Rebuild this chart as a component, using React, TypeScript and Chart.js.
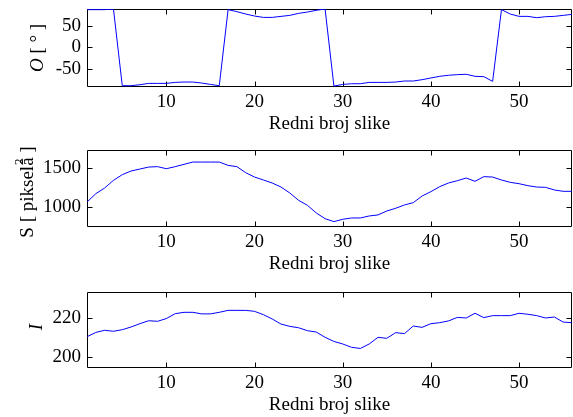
import React, { useEffect, useRef } from "react";
import { Chart, registerables } from "chart.js";

Chart.register(...registerables);

const FONT = '"Liberation Serif", "Times New Roman", serif';

const FRAMES = [
  1, 2, 3, 4, 5, 6, 7, 8, 9, 10, 11, 12, 13, 14, 15, 16, 17, 18, 19, 20,
  21, 22, 23, 24, 25, 26, 27, 28, 29, 30, 31, 32, 33, 34, 35, 36, 37, 38, 39, 40,
  41, 42, 43, 44, 45, 46, 47, 48, 49, 50, 51, 52, 53, 54, 55, 56,
];

const ORIENTATION = [
  87.5, 87.5, 87.5, 89, -89, -89, -86.7, -83.6, -83.6, -83.6,
  -81.3, -80.5, -80.5, -82.8, -86, -89, 87.5, 82.8, 77.3, 72.7,
  69.5, 69.5, 71.9, 74.2, 78.9, 82, 85.9, 89, -89.8, -86,
  -84.4, -84.4, -81.3, -81.3, -81.3, -80.5, -78.1, -78.1, -75, -71.1,
  -67.2, -64.8, -63.3, -62.5, -67.2, -68, -78.9, 87.5, 77.3, 71.9,
  71.9, 68.8, 71.1, 71.9, 74.2, 76.6,
];

const AREA = [
  1067, 1172, 1244, 1340, 1412, 1458, 1483, 1508, 1513, 1487,
  1513, 1542, 1571, 1571, 1571, 1571, 1529, 1513, 1437, 1382,
  1345, 1307, 1256, 1181, 1088, 1025, 929, 857, 820, 849,
  866, 866, 891, 904, 954, 988, 1030, 1059, 1143, 1198,
  1261, 1307, 1336, 1370, 1328, 1387, 1382, 1345, 1315, 1298,
  1273, 1256, 1252, 1219, 1202, 1202,
];

const INTENSITY = [
  210.4, 212.6, 213.7, 213.2, 214.0, 215.4, 217.1, 218.6, 218.3, 219.7,
  222.2, 222.9, 222.9, 222.1, 222.1, 222.9, 223.9, 223.9, 223.9, 223.4,
  221.7, 219.5, 216.9, 215.7, 215.0, 213.5, 212.8, 210.1, 208.0, 206.7,
  205.0, 204.4, 206.7, 210.1, 209.6, 212.5, 212.0, 215.9, 215.2, 217.1,
  217.6, 218.5, 220.3, 220.0, 222.4, 220.2, 221.2, 221.2, 221.2, 222.4,
  221.9, 221.2, 220.0, 220.5, 217.9, 217.6,
];

const X_TICKS = [10, 20, 30, 40, 50];
const ORIENTATION_TICKS = [-50, 0, 50];
const AREA_TICKS = [1000, 1500];
const INTENSITY_TICKS = [200, 220];

const X_LABEL = "Redni broj slike";

type Part = { t: string; f: string; dy?: number; over?: boolean };

function drawVertical(ctx: CanvasRenderingContext2D, baseX: number, cy: number, parts: Part[]) {
  ctx.save();
  let total = 0;
  const widths = parts.map((p) => {
    ctx.font = p.f;
    const w = ctx.measureText(p.t).width;
    if (!p.over) total += w;
    return w;
  });
  ctx.translate(baseX, cy);
  ctx.rotate(-Math.PI / 2);
  ctx.textAlign = "left";
  ctx.textBaseline = "alphabetic";
  ctx.fillStyle = "#000";
  let x = -total / 2;
  let lastStart = x;
  let lastW = 0;
  parts.forEach((p, i) => {
    ctx.font = p.f;
    if (p.over) {
      ctx.fillText(p.t, lastStart + (lastW - widths[i]) / 2, p.dy || 0);
      return;
    }
    ctx.fillText(p.t, x, p.dy || 0);
    lastStart = x;
    lastW = widths[i];
    x += widths[i];
  });
  ctx.restore();
}

const N = `19px ${FONT}`;
const IT = `italic 19px ${FONT}`;

type PanelProps = {
  top: number;
  height: number;
  padTop: number;
  axisHeight: number;
  values: number[];
  yMin: number;
  yMax: number;
  yTicks: number[];
  yLabel: (ctx: CanvasRenderingContext2D) => void;
};

function Panel(p: PanelProps) {
  const ref = useRef<HTMLCanvasElement>(null);
  useEffect(() => {
    const canvas = ref.current!;
    const decor = {
      id: "decor",
      beforeDatasetsDraw(chart: any) {
        const ctx: CanvasRenderingContext2D = chart.ctx;
        const a = chart.chartArea;
        const xs = chart.scales.x;
        const ys = chart.scales.y;
        ctx.save();
        ctx.strokeStyle = "#000";
        ctx.lineWidth = 1;
        const L = Math.round(a.left) + 0.5;
        const R = Math.round(a.right) - 0.5;
        const T = Math.round(a.top) + 0.5;
        const B = Math.round(a.bottom) - 0.5;
        ctx.beginPath();
        ctx.rect(L, T, R - L, B - T);
        ctx.stroke();
        ctx.beginPath();
        xs.ticks.forEach((t: any) => {
          const px = Math.round(xs.getPixelForValue(t.value)) + 0.5;
          ctx.moveTo(px, B);
          ctx.lineTo(px, B - 5);
          ctx.moveTo(px, T);
          ctx.lineTo(px, T + 5);
        });
        ys.ticks.forEach((t: any) => {
          const py = Math.round(ys.getPixelForValue(t.value)) + 0.5;
          ctx.moveTo(L, py);
          ctx.lineTo(L + 5, py);
          ctx.moveTo(R, py);
          ctx.lineTo(R - 5, py);
        });
        ctx.stroke();
        ctx.restore();
      },
      afterDraw(chart: any) {
        const ctx: CanvasRenderingContext2D = chart.ctx;
        const a = chart.chartArea;
        ctx.save();
        ctx.fillStyle = "#000";
        ctx.font = N;
        ctx.textAlign = "center";
        ctx.textBaseline = "middle";
        ctx.fillText(X_LABEL, (a.left + a.right) / 2, a.bottom + 37);
        ctx.restore();
        p.yLabel(ctx);
      },
    };
    const chart = new Chart(canvas, {
      type: "line",
      data: {
        datasets: [
          {
            data: FRAMES.map((f, i) => ({ x: f, y: p.values[i] })),
            borderColor: "#0000ff",
            borderWidth: 1,
            pointRadius: 0,
            tension: 0,
            fill: false,
          },
        ],
      },
      options: {
        animation: false,
        responsive: false,
        devicePixelRatio: 1,
        events: [],
        layout: { padding: { top: p.padTop, right: 1, left: 0, bottom: 0 } },
        plugins: { legend: { display: false }, tooltip: { enabled: false } },
        scales: {
          x: {
            type: "linear",
            min: 1,
            max: 56,
            grid: { display: false, drawTicks: false },
            border: { display: false },
            afterBuildTicks: (s: any) => {
              s.ticks = X_TICKS.map((v) => ({ value: v }));
            },
            afterFit: (s: any) => {
              s.height = p.axisHeight;
              s.paddingLeft = 0;
              s.paddingRight = 0;
            },
            ticks: {
              color: "#000",
              font: { family: FONT, size: 19 },
              padding: 4,
              maxRotation: 0,
              autoSkip: false,
              callback: (v: any) => String(v),
            },
          },
          y: {
            type: "linear",
            min: p.yMin,
            max: p.yMax,
            grid: { display: false, drawTicks: false },
            border: { display: false },
            afterBuildTicks: (s: any) => {
              s.ticks = p.yTicks.map((v) => ({ value: v }));
            },
            afterFit: (s: any) => {
              s.width = 87;
              s.paddingTop = 0;
              s.paddingBottom = 0;
            },
            ticks: {
              color: "#000",
              font: { family: FONT, size: 19 },
              padding: 6,
              autoSkip: false,
              callback: (v: any) => String(v),
            },
          },
        },
      } as any,
      plugins: [decor],
    });
    return () => chart.destroy();
  }, []);
  return (
    <canvas
      ref={ref}
      width={573}
      height={p.height}
      style={{ position: "absolute", left: 0, top: p.top, width: 573, height: p.height }}
    />
  );
}

export default function App() {
  return (
    <div
      style={{
        position: "fixed",
        left: 0,
        top: 0,
        width: 573,
        height: 417,
        background: "#fff",
        overflow: "hidden",
      }}
    >
      <Panel
        top={0}
        height={140}
        padTop={9}
        axisHeight={53}
        values={ORIENTATION}
        yMin={-92}
        yMax={89}
        yTicks={ORIENTATION_TICKS}
        yLabel={(ctx) =>
          drawVertical(ctx, 43, 48, [
            { t: "O", f: IT },
            { t: " [ ° ]", f: N },
          ])
        }
      />
      <Panel
        top={140}
        height={140}
        padTop={10}
        axisHeight={53}
        values={AREA}
        yMin={752}
        yMax={1723}
        yTicks={AREA_TICKS}
        yLabel={(ctx) =>
          drawVertical(ctx, 32.5, 52, [
            { t: "S [ piksel", f: N },
            { t: "â", f: N },
            { t: "2", f: `13px ${FONT}`, dy: -10, over: true },
            { t: " ]", f: N },
          ])
        }
      />
      <Panel
        top={280}
        height={137}
        padTop={12}
        axisHeight={49}
        values={INTENSITY}
        yMin={194.4}
        yMax={233.3}
        yTicks={INTENSITY_TICKS}
        yLabel={(ctx) => drawVertical(ctx, 42, 47, [{ t: "I", f: IT }])}
      />
    </div>
  );
}
